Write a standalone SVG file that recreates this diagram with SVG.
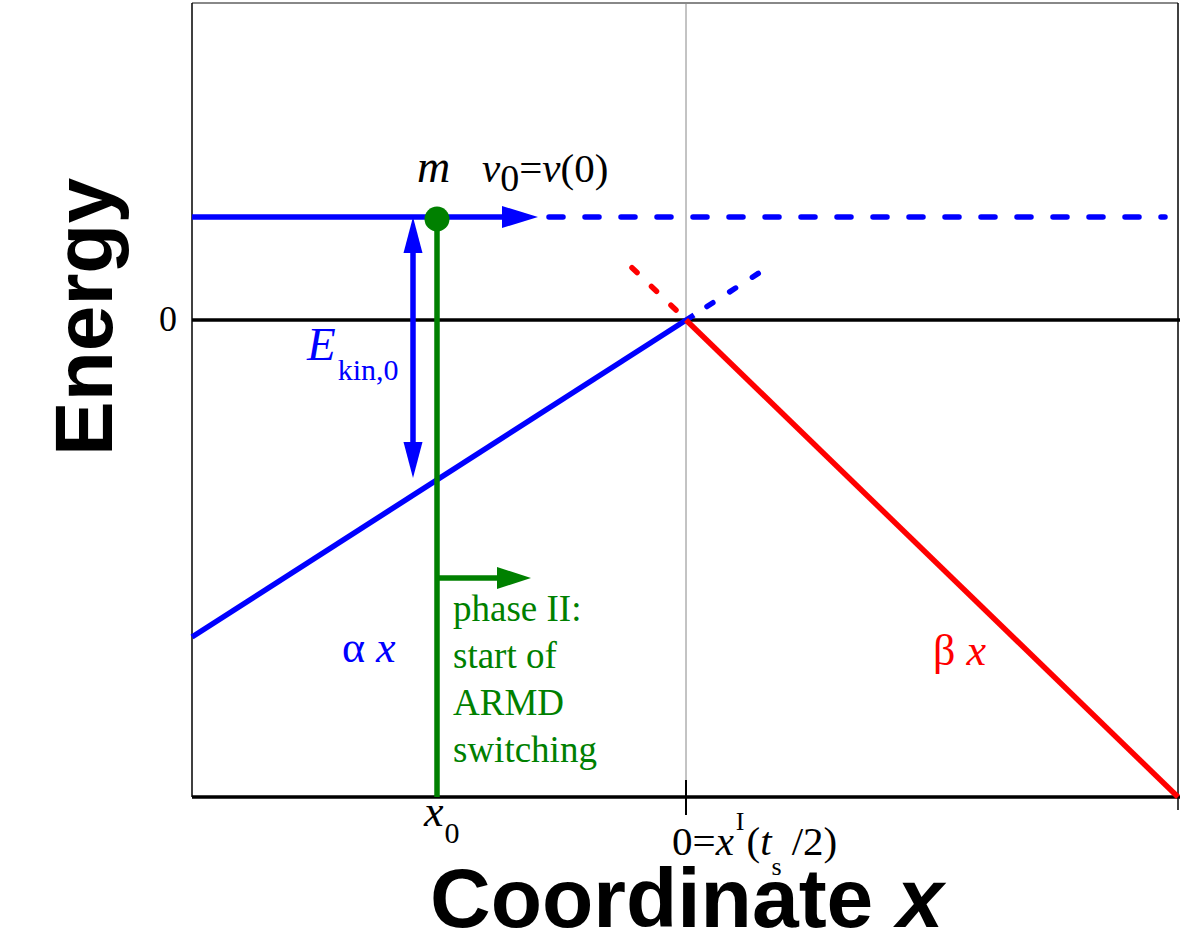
<svg xmlns="http://www.w3.org/2000/svg" width="1181" height="945" viewBox="0 0 1181 945">
<defs>
<style>
.serif{font-family:"Liberation Serif","Times New Roman",serif;}
.it{font-style:italic;}
.bold{font-family:"Liberation Sans",Arial,sans-serif;font-weight:bold;}
.blue{fill:#0000ff;}
.green{fill:#008000;}
.red{fill:#ff0000;}
</style>
</defs>
<rect x="0" y="0" width="1181" height="945" fill="#ffffff"/>
<g id="frame">
<line x1="192" y1="3" x2="1178" y2="3" stroke="#888888" stroke-width="2"/>
<line x1="192" y1="3" x2="192" y2="797" stroke="#000" stroke-width="1.5"/>
<line x1="1178" y1="3" x2="1178" y2="810" stroke="#000" stroke-width="1.5"/>
<line x1="192" y1="797" x2="1180" y2="797" stroke="#000" stroke-width="3.5"/>
<line x1="192" y1="320" x2="1180" y2="320" stroke="#000" stroke-width="3.5"/>
<line x1="686" y1="3" x2="686" y2="797" stroke="#888888" stroke-width="1"/>
<line x1="686" y1="780" x2="686" y2="815" stroke="#000" stroke-width="2"/>
</g>
<g id="connectors">
<line x1="192" y1="637" x2="694" y2="315" stroke="#0000ff" stroke-width="5.5"/>
<line x1="707" y1="306.5" x2="762" y2="271" stroke="#0000ff" stroke-width="5.5" stroke-linecap="round" stroke-dasharray="7 20"/>
<line x1="686" y1="320" x2="1178" y2="797" stroke="#ff0000" stroke-width="5.5"/>
<line x1="676" y1="310" x2="626" y2="262" stroke="#ff0000" stroke-width="5.5" stroke-linecap="round" stroke-dasharray="7 20"/>
<line x1="192" y1="217" x2="505" y2="217" stroke="#0000ff" stroke-width="5.5"/>
<polygon points="502,206 538,217 502,228" fill="#0000ff"/>
<line x1="549" y1="217" x2="1165" y2="217" stroke="#0000ff" stroke-width="5.5" stroke-linecap="round" stroke-dasharray="14 22"/>
<line x1="413" y1="245" x2="413" y2="450" stroke="#0000ff" stroke-width="5.5"/>
<polygon points="413,217 422.5,253 403.5,253" fill="#0000ff"/>
<polygon points="413,478 422.5,442 403.5,442" fill="#0000ff"/>
<line x1="437" y1="220" x2="437" y2="797" stroke="#008000" stroke-width="5.5"/>
<line x1="437" y1="578" x2="500" y2="578" stroke="#008000" stroke-width="5.5"/>
<polygon points="497,567 531,578 497,589" fill="#008000"/>
</g>
<g id="mass">
<circle cx="437" cy="219" r="12.5" fill="#008000"/>
</g>
<g id="labels">
<text class="serif it" x="417" y="182" font-size="46">m</text>
<text class="serif" x="482" y="182" font-size="41"><tspan class="it">v</tspan><tspan font-size="38" dy="9">0</tspan><tspan dy="-9">=</tspan><tspan class="it">v</tspan>(0)</text>
<text class="serif" x="159" y="331" font-size="36">0</text>
<text class="serif blue" x="307" y="360" font-size="47"><tspan class="it">E</tspan><tspan font-size="30" dx="2" dy="20">kin,0</tspan></text>
<text class="serif blue" x="342" y="662" font-size="44">α <tspan class="it">x</tspan></text>
<text class="serif red" x="933" y="665" font-size="44">β <tspan class="it">x</tspan></text>
<g class="serif green" font-size="37">
<text x="453" y="621">phase II:</text>
<text x="453" y="668">start of</text>
<text x="453" y="715">ARMD</text>
<text x="453" y="762">switching</text>
</g>
<text class="serif" x="424" y="826" font-size="44"><tspan class="it">x</tspan><tspan font-size="30" dx="1" dy="17">0</tspan></text>
<text class="serif" x="672" y="855" font-size="41">0=<tspan class="it">x</tspan><tspan font-size="26" dx="2" dy="-25">I</tspan><tspan dx="2" dy="25">(</tspan><tspan class="it">t</tspan><tspan font-size="26" dy="20">s</tspan><tspan dx="10" dy="-20">/2)</tspan></text>
<text class="bold" x="0" y="0" font-size="82" text-anchor="middle" transform="translate(112,317) rotate(-90)">Energy</text>
<text class="bold" x="430" y="927" font-size="84">Coordinate <tspan font-style="italic">x</tspan></text>
</g>
</svg>
